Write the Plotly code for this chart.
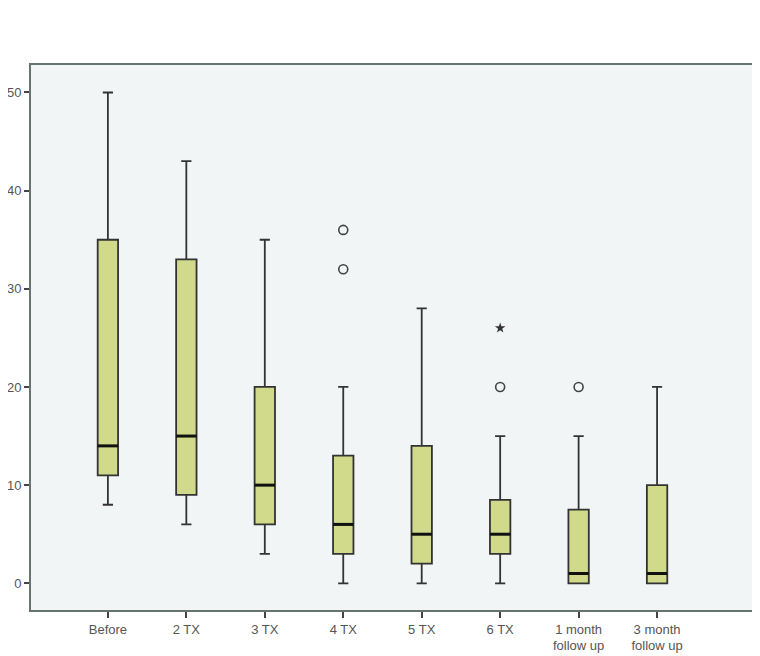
import plotly.graph_objects as go

# categories and box statistics
categories = ["Before", "2 TX", "3 TX", "4 TX", "5 TX", "6 TX", "1 month<br>follow up", "3 month<br>follow up"]
lower = [8, 6, 3, 0, 0, 0, 0, 0]
q1 = [11, 9, 6, 3, 2, 3, 0, 0]
median = [14, 15, 10, 6, 5, 5, 1, 1]
q3 = [35, 33, 20, 13, 14, 8.5, 7.5, 10]
upper = [50, 43, 35, 20, 28, 15, 15, 20]

# outliers (circle) and extreme values (star)
out_x = [3, 3, 5, 6]
out_y = [36, 32, 20, 20]
ext_x = [5]
ext_y = [26]

pos = list(range(len(categories)))
box_w = 0.26
fill_col = "#d0da8a"
edge_col = "#333333"
frame_col = "#66736f"

fig = go.Figure()

fig.add_trace(go.Box(
    x=pos, q1=q1, median=median, q3=q3,
    lowerfence=lower, upperfence=upper,
    width=box_w, whiskerwidth=0.5,
    fillcolor=fill_col,
    line=dict(color=edge_col, width=1.8),
    boxpoints=False, showlegend=False,
))

# thick median lines, SPSS style
mx, my = [], []
for p, m in zip(pos, median):
    mx += [p - box_w / 2, p + box_w / 2, None]
    my += [m, m, None]
fig.add_trace(go.Scatter(x=mx, y=my, mode="lines",
                         line=dict(color="#111111", width=3), showlegend=False))

fig.add_trace(go.Scatter(x=out_x, y=out_y, mode="markers",
                         marker=dict(symbol="circle-open", size=9, color="#444444",
                                     line=dict(width=1.6)),
                         showlegend=False))
fig.add_trace(go.Scatter(x=ext_x, y=ext_y, mode="markers",
                         marker=dict(symbol="star", size=8, color="#333333"),
                         showlegend=False))

# page body has an 8px margin, so the figure is a bit smaller than the window
fig.update_layout(
    width=752, height=648,
    margin=dict(l=23, r=8, t=57, b=46),
    paper_bgcolor="white",
    plot_bgcolor="#f1f5f5",
    font=dict(family="Liberation Sans, Arial", size=13, color="#555555"),
)
fig.update_xaxes(
    range=[-0.98, 8.21], tickvals=pos, ticktext=categories,
    showgrid=False, zeroline=False, automargin=False,
    showline=True, linecolor=frame_col, linewidth=1.8, mirror=True,
    ticks="outside", ticklen=6, tickcolor="#444444", tickwidth=1.5,
)
fig.update_yaxes(
    range=[-2.72, 52.8], tickvals=[0, 10, 20, 30, 40, 50],
    showgrid=False, zeroline=False, automargin=False,
    showline=True, linecolor=frame_col, linewidth=1.8, mirror=True,
    ticks="outside", ticklen=5, tickcolor="#444444", tickwidth=1.5,
)

fig.write_html("out.html")
